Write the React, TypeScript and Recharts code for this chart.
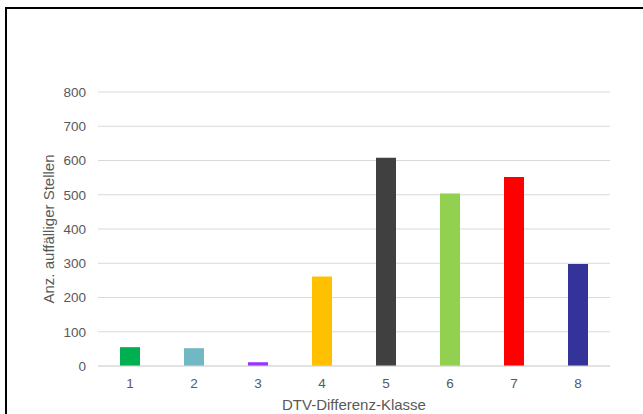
import { BarChart, Bar, Cell, XAxis, YAxis, CartesianGrid, Label } from "recharts";

// Klassen der DTV-Differenz und Anzahl auffälliger Stellen je Klasse
const classes = ["1", "2", "3", "4", "5", "6", "7", "8"];
const counts = [55, 52, 11, 261, 608, 504, 552, 298];
const barColors = [
  "#00B050",
  "#70B9C4",
  "#9933FF",
  "#FFC000",
  "#404040",
  "#92D050",
  "#FF0000",
  "#333399",
];
const yTicks = [0, 100, 200, 300, 400, 500, 600, 700, 800];

const data = classes.map((k, i) => ({ klasse: k, anzahl: counts[i] }));

const FONT = '"Liberation Sans", Arial, sans-serif';
const TEXT = "#595959";
const GRID = "#d9d9d9";

export default function App() {
  return (
    <div
      style={{
        position: "absolute",
        left: 0,
        top: 0,
        width: 643,
        height: 414,
        overflow: "hidden",
        background: "#fff",
        fontFamily: FONT,
      }}
    >
      {/* Rahmen oben und links */}
      <div
        style={{
          position: "absolute",
          left: 5,
          top: 7,
          width: 640,
          height: 410,
          borderTop: "2px solid #000",
          borderLeft: "2px solid #000",
          boxSizing: "border-box",
        }}
      />
      <div style={{ position: "absolute", left: 0, top: 0 }}>
        <BarChart
          width={643}
          height={414}
          data={data}
          margin={{ top: 92, right: 33, bottom: 0, left: 0 }}
          barSize={20}
        >
          <CartesianGrid vertical={false} stroke={GRID} strokeWidth={1} />
          <XAxis
            dataKey="klasse"
            height={48}
            axisLine={{ stroke: GRID }}
            tickLine={false}
            tickSize={0}
            tickMargin={12}
            tick={{ fill: TEXT, fontSize: 13.5, fontFamily: FONT }}
          >
            <Label
              value="DTV-Differenz-Klasse"
              position="insideBottom"
              offset={4}
              fill={TEXT}
              fontSize={15}
              fontFamily={FONT}
            />
          </XAxis>
          <YAxis
            width={98}
            domain={[0, 800]}
            ticks={yTicks}
            interval={0}
            axisLine={false}
            tickLine={false}
            tickSize={0}
            tickMargin={12}
            tick={{ fill: TEXT, fontSize: 13.5, fontFamily: FONT }}
          >
            <Label
              value="Anz. auffälliger Stellen"
              angle={-90}
              position="center"
              fill={TEXT}
              fontSize={15}
              fontFamily={FONT}
            />
          </YAxis>
          <Bar dataKey="anzahl" isAnimationActive={false}>
            {data.map((d, i) => (
              <Cell key={d.klasse} fill={barColors[i]} />
            ))}
          </Bar>
        </BarChart>
      </div>
    </div>
  );
}
